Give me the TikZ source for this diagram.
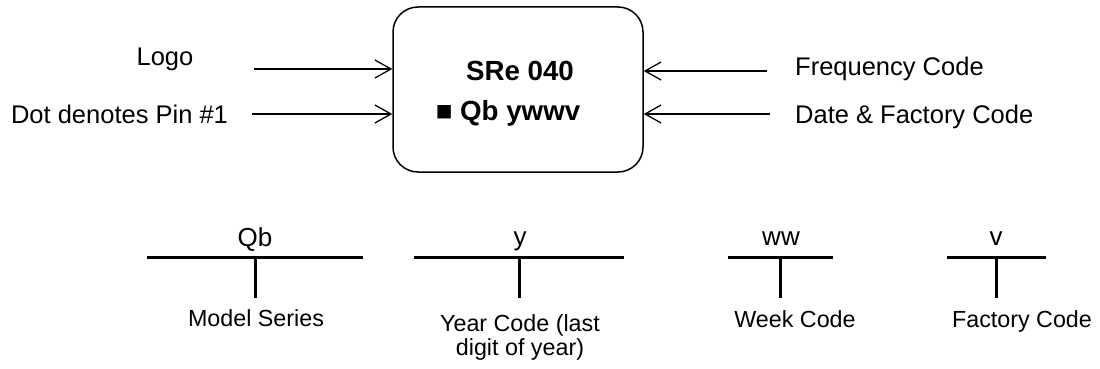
\documentclass[tikz,border=0pt]{standalone}
\usepackage{fontspec}
\setmainfont{Liberation Sans}
\usetikzlibrary{arrows.meta}
\begin{document}
\begin{tikzpicture}[x=1pt,y=-1pt,
  lbl/.style={inner sep=0pt,anchor=base,font=\fontsize{25.5}{30}\selectfont},
  sublbl/.style={inner sep=0pt,anchor=base,font=\fontsize{23.3}{24}\selectfont,align=center},
  codelbl/.style={inner sep=0pt,anchor=base,font=\fontsize{26}{30}\selectfont},
  chip/.style={draw,line width=1.5pt,rounded corners=25pt,minimum width=250pt,minimum height=165pt,inner sep=0pt},
  chiptxt/.style={inner sep=0pt,anchor=base,font=\bfseries\fontsize{27.7}{30}\selectfont},
  arr/.style={line width=1.3pt,-{Straight Barb[length=16pt,width=18pt,line width=1.3pt]}},
  tbar/.style={line width=3pt},
]
\useasboundingbox (0,0) rectangle (1100,369);
% chip outline
\node[chip] (box) at (518,89.5) {};
\node[chiptxt] (t1) at (520,81) {SRe 040};
\node[chiptxt] (t2) at (508,120) {■ Qb ywwv};
% left labels and arrows
\node[lbl] (logo) at (165,66) {Logo};
\node[lbl] (dot) at (119.5,123) {Dot denotes Pin \#1};
\coordinate (la) at (254,69);
\coordinate (da) at (252,114);
\draw[arr] (la) -- (la -| box.west);
\draw[arr] (da) -- (da -| box.west);
% right labels and arrows
\node[lbl,anchor=base west] (freq) at (795,76) {Frequency Code};
\node[lbl,anchor=base west] (date) at (795,123) {Date \& Factory Code};
\coordinate (fa) at (767,71);
\coordinate (dta) at (770,114);
\draw[arr] (fa) -- (fa -| box.east);
\draw[arr] (dta) -- (dta -| box.east);
% bottom T markers
\coordinate (q1) at (147,257); \coordinate (q2) at (363,257);
\coordinate (qs) at (255,257); \coordinate (qe) at (255,298);
\draw[tbar] (q1) -- (q2); \draw[tbar] (qs) -- (qe);
\node[codelbl] (qb) at (255,246) {Qb};
\node[sublbl] (ms) at (256,326) {Model Series};

\coordinate (y1) at (414,257); \coordinate (y2) at (624,257);
\coordinate (ys) at (519,257); \coordinate (ye) at (519,298);
\draw[tbar] (y1) -- (y2); \draw[tbar] (ys) -- (ye);
\node[codelbl] (yl) at (520,245) {y};
\node[sublbl] (yc) at (520,355) {Year Code (last\\digit of year)};

\coordinate (w1) at (728,257); \coordinate (w2) at (833,257);
\coordinate (ws) at (780,257); \coordinate (we) at (780,298);
\draw[tbar] (w1) -- (w2); \draw[tbar] (ws) -- (we);
\node[codelbl] (wl) at (781,245) {ww};
\node[sublbl] (wc) at (795,327) {Week Code};

\coordinate (v1) at (947,257); \coordinate (v2) at (1046,257);
\coordinate (vs) at (996,257); \coordinate (ve) at (996,298);
\draw[tbar] (v1) -- (v2); \draw[tbar] (vs) -- (ve);
\node[codelbl] (vl) at (996,245) {v};
\node[sublbl] (fc) at (1022,327) {Factory Code};
\end{tikzpicture}
\end{document}
